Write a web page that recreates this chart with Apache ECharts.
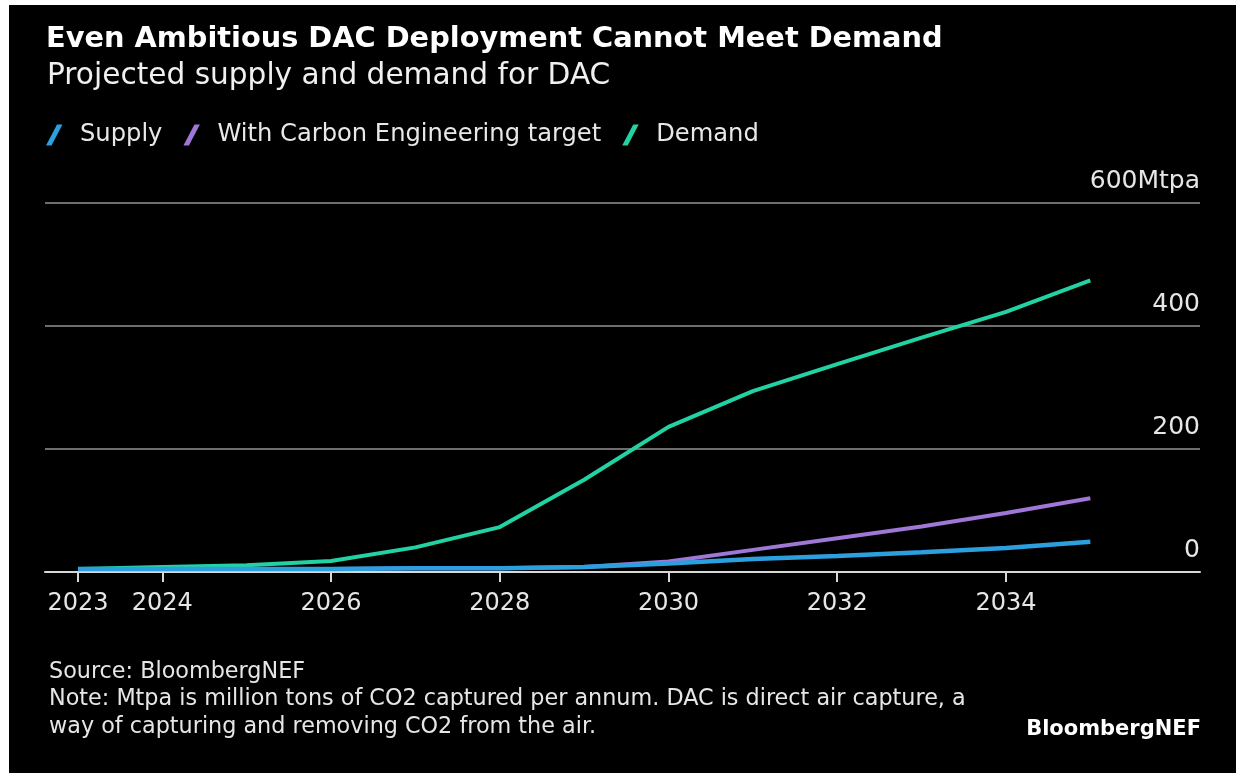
<!DOCTYPE html>
<html>
<head>
<meta charset="utf-8">
<script src="https://cdn.jsdelivr.net/npm/echarts@6/dist/echarts.min.js"></script>
<style>
html,body{margin:0;padding:0;background:#000;}
#chart{width:1236px;height:773px;}
</style>
</head>
<body>
<div id="chart"></div>
<script>
// ---- data ----
const years = [2023, 2024, 2025, 2026, 2027, 2028, 2029, 2030, 2031, 2032, 2033, 2034, 2035];
const supply = [5, 5, 5, 5, 6, 6, 8, 14, 21, 26, 32, 39, 49];
const withCETarget = [5, 5, 5, 5, 6, 6, 8, 17, 36, 55, 74, 96, 120];
const demand = [5, 8, 11, 18, 40, 73, 150, 236, 294, 338, 381, 423, 474];
const xTickYears = [2023, 2024, 2026, 2028, 2030, 2032, 2034];
const yTickValues = [0, 200, 400, 600];
const yTickLabels = ['0', '200', '400', '600Mtpa'];
const seriesNames = ['Supply', 'With Carbon Engineering target', 'Demand'];

const FONT = '"DejaVu Sans", sans-serif';
const colors = { supply: '#2c9fdf', ce: '#9f77d6', demand: '#22d2a3' };
// slanted stroke inside a 41x21 box (tiny corner dots fix the box size)
const slash = 'path://M0,0 L0.01,0 L0,0.01 Z M41,21 L40.99,21 L41,20.99 Z M12,21 L23,0 L28.5,0 L17.5,21 Z';

const pairs = arr => years.map((y, i) => [y, arr[i]]);

const chart = echarts.init(document.getElementById('chart'), null, { renderer: 'canvas' });
chart.setOption({
  backgroundColor: '#000',
  animation: false,
  textStyle: { fontFamily: FONT },
  title: [
    { text: 'Even Ambitious DAC Deployment Cannot Meet Demand', left: 41, top: 20,
      textStyle: { color: '#fff', fontSize: 28.8, fontWeight: 'bold', fontFamily: FONT, lineHeight: 30 } },
    { text: 'Projected supply and demand for DAC', left: 42, top: 56,
      textStyle: { color: '#f0f0f0', fontSize: 29.6, fontWeight: 'normal', fontFamily: FONT, lineHeight: 30 } },
    { text: 'Source: BloombergNEF\nNote: Mtpa is million tons of CO2 captured per annum. DAC is direct air capture, a\nway of capturing and removing CO2 from the air.',
      left: 44, top: 653,
      textStyle: { color: '#e6e6e6', fontSize: 22.3, fontWeight: 'normal', fontFamily: FONT, lineHeight: 27.5 } },
    { text: 'BloombergNEF', right: 30, top: 714,
      textStyle: { color: '#fff', fontSize: 21, fontWeight: 'bold', fontFamily: FONT, lineHeight: 22 } }
  ],
  legend: {
    data: seriesNames,
    left: 29, top: 118,
    itemWidth: 41, itemHeight: 21, itemGap: 9,
    icon: slash,
    symbolKeepAspect: false,
    itemStyle: { borderWidth: 0 },
    textStyle: { color: '#e8e8e8', fontSize: 24.2, fontFamily: FONT }
  },
  grid: { left: 45, right: 36, top: 203, bottom: 201, containLabel: false },
  xAxis: {
    type: 'value',
    min: 2022.609, max: 2036.3,
    splitLine: { show: false },
    axisLine: { show: true, lineStyle: { color: '#d8d8d8', width: 2 } },
    axisTick: { show: true, length: 10, lineStyle: { color: '#d8d8d8', width: 2 }, customValues: xTickYears },
    axisLabel: { show: true, customValues: xTickYears, color: '#e6e6e6', fontSize: 24, margin: 20, fontFamily: FONT,
      formatter: v => String(v) }
  },
  yAxis: {
    type: 'value',
    position: 'right',
    min: 0, max: 600, interval: 200,
    axisLine: { show: false },
    axisTick: { show: false },
    splitLine: { show: true, lineStyle: { color: '#6e6e6e', width: 2 } },
    axisLabel: {
      inside: true, margin: 0, color: '#e6e6e6', fontSize: 25, fontFamily: FONT,
      verticalAlign: 'bottom', padding: [0, 0, 9, 0],
      formatter: v => { const i = yTickValues.indexOf(v); return i >= 0 ? yTickLabels[i] : ''; }
    }
  },
  series: [
    { name: 'Demand', type: 'line', data: pairs(demand), showSymbol: false, symbol: 'none',
      color: colors.demand, lineStyle: { color: colors.demand, width: 4 }, z: 2 },
    { name: 'With Carbon Engineering target', type: 'line', data: pairs(withCETarget), showSymbol: false, symbol: 'none',
      color: colors.ce, lineStyle: { color: colors.ce, width: 4 }, z: 3 },
    { name: 'Supply', type: 'line', data: pairs(supply), showSymbol: false, symbol: 'none',
      color: colors.supply, lineStyle: { color: colors.supply, width: 4.5 }, z: 4 }
  ],
  graphic: [
    { type: 'rect', left: 0, top: 0, shape: { width: 1236, height: 5 }, style: { fill: '#fff' }, z: 100 },
    { type: 'rect', left: 0, top: 0, shape: { width: 9, height: 773 }, style: { fill: '#fff' }, z: 100 }
  ]
});
</script>
</body>
</html>
